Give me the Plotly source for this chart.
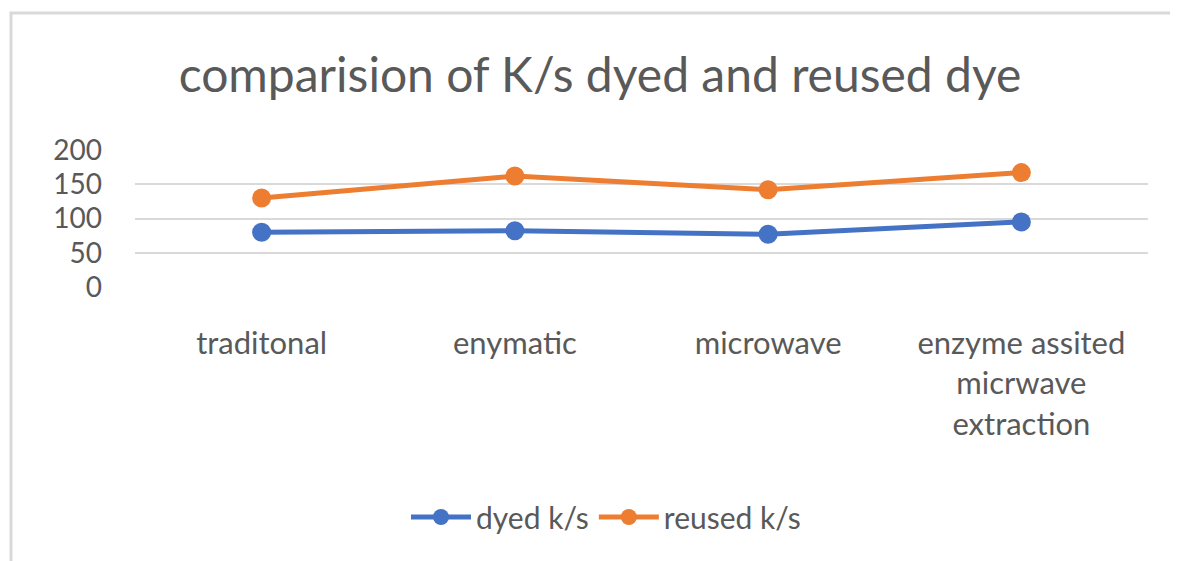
import plotly.graph_objects as go

categories = ["traditonal", "enymatic", "microwave", "enzyme assited<br>micrwave<br>extraction"]
dyed = [80, 82, 77, 95]
reused = [130, 162, 142, 167]
y_ticks = [0, 50, 100, 150, 200]

OFF = 8  # page body margin
W, H = 1170, 553
L, R, T, B = 127, 30, 142, 274
pw, ph = W - L - R, H - T - B

fig = go.Figure()
fig.add_trace(go.Scatter(x=categories, y=dyed, name="dyed k/s", mode="lines+markers",
                         line=dict(color="#4472C4", width=5), marker=dict(size=19, color="#4472C4")))
fig.add_trace(go.Scatter(x=categories, y=reused, name="reused k/s", mode="lines+markers",
                         line=dict(color="#ED7D31", width=5), marker=dict(size=19, color="#ED7D31")))

font = "Lato, 'Open Sans', sans-serif"
fig.update_layout(
    width=W, height=H,
    margin=dict(l=L, r=R, t=T, b=B),
    paper_bgcolor="white", plot_bgcolor="white",
    title=dict(text="comparision of K/s dyed and reused dye", x=(600 - OFF) / W, xanchor="center",
               xref="container", y=1 - (75 - OFF) / H, yanchor="middle",
               font=dict(family=font, size=48, color="#595959")),
    font=dict(family=font, color="#595959"),
    xaxis=dict(showgrid=False, showline=False, ticks="", tickfont=dict(size=31, color="#595959"),
               ticklabelstandoff=35, range=[-0.5, 3.5]),
    yaxis=dict(range=[0, 200], tickvals=y_ticks, showgrid=True, gridcolor="#D9D9D9", gridwidth=2,
               zeroline=False, showline=False, ticks="", tickfont=dict(size=28, color="#595959"),
               ticklabelstandoff=32),
    legend=dict(orientation="h", x=(606 - OFF) / W, xanchor="center", xref="container",
                y=1 - (517 - OFF) / H, yref="container", yanchor="middle",
                font=dict(size=30, color="#595959"), itemwidth=60),
    showlegend=True,
)
fig.add_shape(type="rect", xref="paper", yref="paper",
              x0=(11 - OFF - L) / pw, x1=(1200 - OFF - L) / pw,
              y0=(T + ph - (580 - OFF)) / ph, y1=(T + ph - (13 - OFF)) / ph,
              line=dict(color="#D9D9D9", width=3), fillcolor="rgba(0,0,0,0)", layer="below")
fig.write_html("out.html")
